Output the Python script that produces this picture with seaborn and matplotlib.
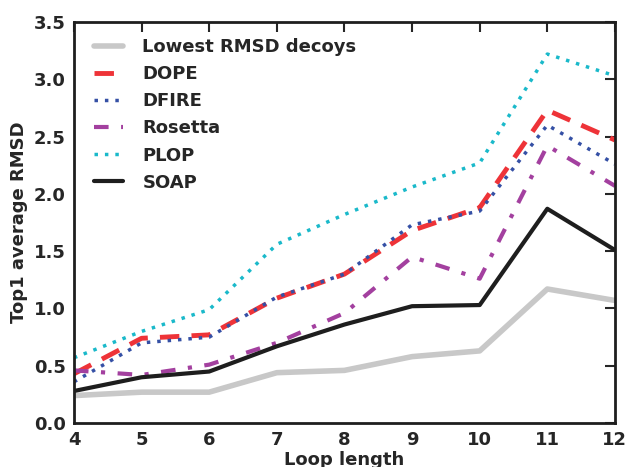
import matplotlib
matplotlib.use("Agg")
import matplotlib.pyplot as plt
import seaborn as sns
import pandas as pd

# ---------------------------------------------------------
# Data
# ---------------------------------------------------------
loop_length = [4, 5, 6, 7, 8, 9, 10, 11, 12]
lowest_rmsd = [0.24, 0.27, 0.27, 0.44, 0.46, 0.58, 0.63, 1.17, 1.07]
dope = [0.43, 0.74, 0.77, 1.09, 1.30, 1.68, 1.88, 2.73, 2.47]
dfire = [0.36, 0.70, 0.75, 1.10, 1.30, 1.73, 1.85, 2.60, 2.26]
rosetta = [0.46, 0.42, 0.51, 0.70, 0.96, 1.45, 1.26, 2.42, 2.07]
plop = [0.57, 0.80, 0.99, 1.56, 1.82, 2.06, 2.27, 3.22, 3.03]
soap = [0.28, 0.40, 0.45, 0.67, 0.86, 1.02, 1.03, 1.87, 1.51]

series = [
    ("Lowest RMSD decoys", lowest_rmsd, "#c8c8c8", "-", 4.0),
    ("DOPE", dope, "#ee3338", (0, (4, 2.5)), 3.5),
    ("DFIRE", dfire, "#3550a5", (0, (1, 2)), 2.5),
    ("Rosetta", rosetta, "#a3409f", (0, (3.5, 3, 1, 3)), 3.0),
    ("PLOP", plop, "#1ab9ca", (0, (1, 2)), 2.5),
    ("SOAP", soap, "#1e1e1e", "-", 3.0),
]

sns.set_style("white")
plt.rcParams["font.family"] = ["DejaVu Sans"]
plt.rcParams["font.weight"] = "bold"

fig = plt.figure(figsize=(6.32, 4.67), dpi=100)
ax = fig.add_axes([0.117, 0.094, 0.856, 0.859])

for name, vals, color, ls, lw in series:
    df = pd.DataFrame({"x": loop_length, "y": vals})
    sns.lineplot(data=df, x="x", y="y", ax=ax, color=color, linestyle=ls,
                 linewidth=lw, label=name)

ax.set_xlim(4, 12)
ax.set_ylim(0, 3.5)
ax.set_xticks(loop_length)
ax.set_yticks([0.0, 0.5, 1.0, 1.5, 2.0, 2.5, 3.0, 3.5])
ax.set_yticklabels([f"{v:.1f}" for v in ax.get_yticks()])
ax.tick_params(direction="in", length=7, width=1.5, top=True, right=True,
               labelsize=13, pad=6)
for lab in ax.get_xticklabels() + ax.get_yticklabels():
    lab.set_fontweight("bold")
for sp in ax.spines.values():
    sp.set_linewidth(2)
    sp.set_color("#1e1e1e")

ax.set_xlabel("Loop length", fontsize=13, fontweight="bold", labelpad=1)
ax.set_ylabel("Top1 average RMSD", fontsize=13, fontweight="bold", labelpad=4)

leg = ax.legend(loc="upper left", frameon=False, fontsize=13, handlelength=1.65,
                handletextpad=1.05, borderaxespad=0.0, labelspacing=0.5,
                bbox_to_anchor=(0.023, 0.977))
for t in leg.get_texts():
    t.set_fontweight("bold")

fig.savefig("out.png", dpi=100)
